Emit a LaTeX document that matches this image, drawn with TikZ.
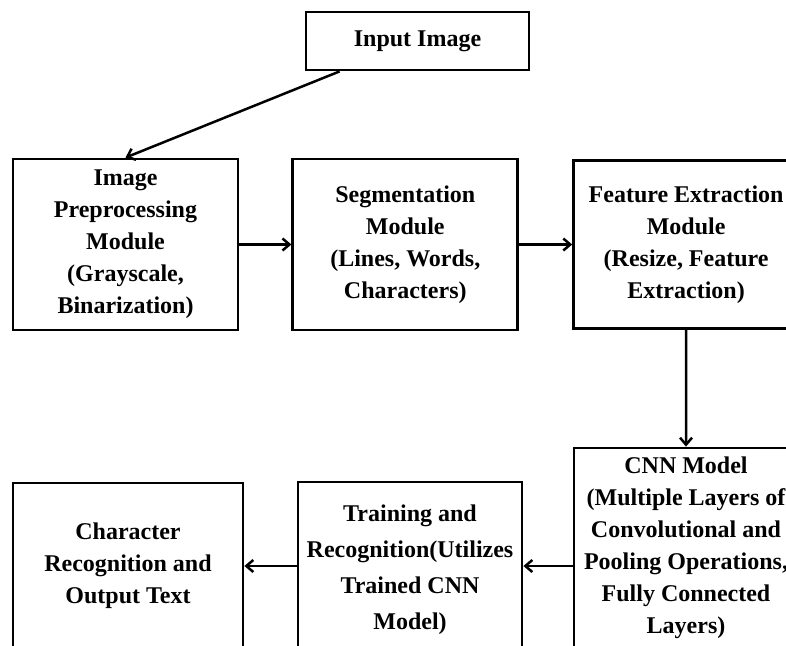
\documentclass[tikz,border=0pt]{standalone}
\usepackage{fontspec}
\setmainfont{Liberation Serif}
\usetikzlibrary{positioning,arrows.meta}
\tikzstyle{box3}=[draw,line width=2.8pt,align=center,inner sep=0pt,font=\bfseries\fontsize{24}{32}\selectfont]

\begin{document}
\begin{tikzpicture}[x=1pt,y=-1pt]

\tikzstyle{box2}=[box3,minimum width=225pt,minimum height=171pt]
\tikzstyle{arrow}=[-{Straight Barb[length=7pt,width=12pt]},line width=2.5pt]

\useasboundingbox (0,0) rectangle (786,645);
\clip (0,0) rectangle (786,645);

\node (inp) [box3,minimum width=223pt,minimum height=58pt] at (417.5,41) {Input Image};

\node (pre) [box2] at (125.5,244.5)          {Image\\Preprocessing\\Module\\(Grayscale,\\Binarization)};

\node (seg) [box2, right=52pt of pre]        {Segmentation\\Module\\(Lines, Words,\\Characters)};

\node (feat) [box2, right=53pt of seg, minimum height=168pt] {Feature Extraction\\Module\\(Resize, Feature\\Extraction)};

\node (cnn) [box3, minimum width=224pt, minimum height=200pt] at (686,548)
                                             {CNN Model\\(Multiple Layers of\\Convolutional and\\Pooling Operations,\\Fully Connected\\Layers)};

\node (trn) [box3, minimum width=224pt, minimum height=176pt, font=\bfseries\fontsize{24}{36}\selectfont] at (410,570)
                                             {Training and\\Recognition(Utilizes\\Trained CNN\\Model)};

\node (chr) [box3, minimum width=230pt, minimum height=166pt] at (128,566)
                                             {Character\\Recognition and\\Output Text};

\draw [arrow] ([xshift=35pt]inp.south west) -- (pre.north);
\draw [arrow] (pre) -- (seg);
\draw [arrow] (seg) -- (feat);
\draw [arrow] (feat.south) -- (cnn.north);
\draw [arrow] (cnn.west |- chr.east) -- (trn.east |- chr.east);
\draw [arrow] (trn.west |- chr.east) -- (chr.east);

\end{tikzpicture}
\end{document}
